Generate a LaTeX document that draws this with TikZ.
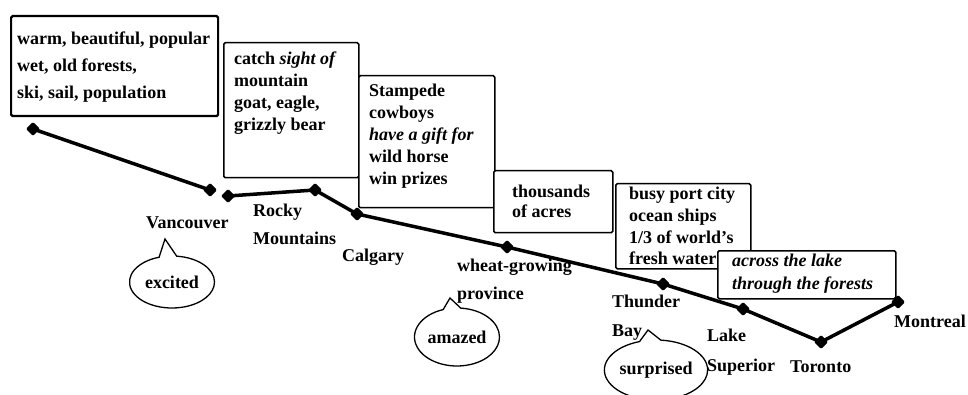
\documentclass[tikz,border=0pt]{standalone}
\usepackage{fontspec}
\setmainfont{Liberation Serif}
\usetikzlibrary{shapes.geometric,shapes.callouts}
\begin{document}
\begin{tikzpicture}[x=1pt,y=-1pt,
  every node/.style={font=\fontsize{18}{21.5}\selectfont\bfseries},
  box/.style={draw, line width=1.5pt, fill=white, rounded corners=1.5pt, anchor=north west, inner sep=0pt},
  txt/.style={anchor=north west, align=left, inner sep=0pt},
  stop/.style={diamond, fill=black, draw=black, line width=1pt, rounded corners=1pt, inner sep=0pt, minimum size=13pt},
  route/.style={line width=3.5pt},
  feel/.style={ellipse callout, draw, line width=1.3pt, inner sep=0pt, callout pointer arc=24, minimum width=85pt, minimum height=52pt},
  lbl/.style={anchor=west, align=left, inner sep=0pt}]
\useasboundingbox (0,0) rectangle (968,395);

% boxes
\node[box, line width=2.2pt, minimum width=207pt, minimum height=100pt] (b1) at (10,15) {};
\node[txt, font=\fontsize{18}{27}\selectfont\bfseries] (t1) at (17,31.5) {warm, beautiful, popular\\wet, old forests,\\ski, sail, population};
\node[box, minimum width=135pt, minimum height=135pt] (b2) at (223,42) {};
\node[txt, font=\fontsize{18}{22}\selectfont\bfseries] (t2) at (234,52) {catch \textit{sight of}\\mountain\\goat, eagle,\\grizzly bear};
\node[box, minimum width=136pt, minimum height=132pt] (b3) at (358,75) {};
\node[txt, font=\fontsize{18}{22}\selectfont\bfseries] (t3) at (369,84) {Stampede\\cowboys\\\textit{have a gift for}\\wild horse\\win prizes};
\node[box, minimum width=119pt, minimum height=62pt] (b4) at (493,170) {};
\node[txt, font=\fontsize{18}{20}\selectfont\bfseries] (t4) at (512,185) {thousands\\of acres};
\node[box, minimum width=135pt, minimum height=85pt] (b5) at (615,183) {};
\node[txt, font=\fontsize{18}{21.7}\selectfont\bfseries] (t5) at (629,187) {busy port city\\ocean ships\\1/3 of world's\\fresh water};
\node[box, minimum width=178pt, minimum height=48pt] (b6) at (717,250) {};
\node[txt, font=\fontsize{18}{23}\selectfont\bfseries\itshape] (t6) at (732,254) {across the lake\\through the forests};

% stops
\node[stop] (m0) at (33,129) {};
\node[stop] (m1) at (210,190) {};
\node[stop] (m2) at (228,196) {};
\node[stop] (m3) at (315,190) {};
\node[stop] (m4) at (357,214) {};
\node[stop] (m5) at (507,247) {};
\node[stop] (m6) at (663,284) {};
\node[stop] (m7) at (743,309) {};
\node[stop] (m8) at (821,342) {};
\node[stop] (m9) at (898,302) {};

\draw[route] (m0.center) -- (m1.center);
\draw[route] (m2.center) -- (m3.center) -- (m4.center) -- (m5.center) -- (m6.center)
  -- (m7.center) -- (m8.center) -- (m9.center);

% place labels
\node[lbl] (vanc) at (146,223) {Vancouver};
\node[lbl, font=\fontsize{18}{28}\selectfont\bfseries] (rocky) at (253,224) {Rocky\\Mountains};
\node[lbl] (calg) at (342,257) {Calgary};
\node[lbl, font=\fontsize{18}{28}\selectfont\bfseries] (wheat) at (457,281) {wheat-growing\\province};
\node[lbl, font=\fontsize{18}{29}\selectfont\bfseries] (thb) at (612,318) {Thunder\\Bay};
\node[lbl, font=\fontsize{18}{30}\selectfont\bfseries] (lsup) at (707,352) {Lake\\Superior};
\node[lbl] (tor) at (790,367) {Toronto};
\node[lbl, anchor=east] (mont) at (966,321) {Montreal};

% feelings
\coordinate (p1) at (165,239);
\coordinate (p2) at (450,298);
\coordinate (p3) at (648,330);
\node[feel, callout absolute pointer={(p1)}] (f1) at (172,282) {excited};
\node[feel, minimum height=58pt, callout absolute pointer={(p2)}] (f2) at (457,337) {amazed};
\node[feel, minimum width=82pt, minimum height=60pt, callout absolute pointer={(p3)}] (f3) at (656,370) {surprised};
\end{tikzpicture}
\end{document}
